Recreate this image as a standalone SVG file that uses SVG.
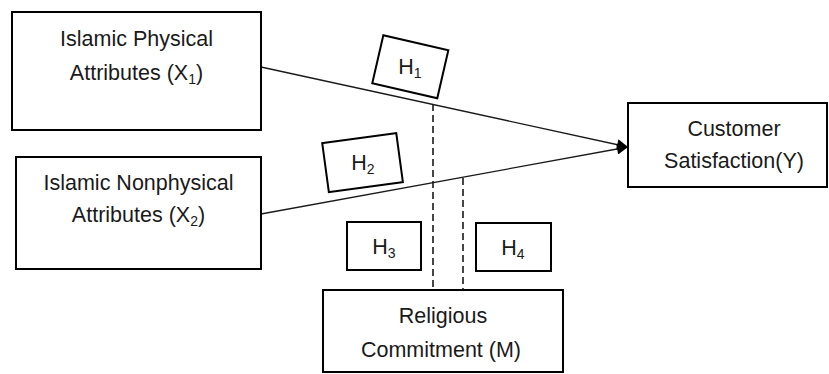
<svg xmlns="http://www.w3.org/2000/svg" width="829" height="374" viewBox="0 0 829 374">
<style>
.box{fill:#fff;stroke:#000;stroke-width:2}
.t{font-family:"Liberation Sans",Arial,sans-serif;font-size:21.5px;fill:#1a1a1a;text-anchor:middle}
.sub{font-size:14px}
.ln{stroke:#1a1a1a;stroke-width:1.3;fill:none}
.dash{stroke:#1a1a1a;stroke-width:1.6;stroke-dasharray:7 4;fill:none}
</style>
<defs>
<marker id="arr" viewBox="0 0 10 10" refX="10" refY="5" markerWidth="15" markerHeight="11" markerUnits="userSpaceOnUse" orient="auto">
<path d="M0,0 L10,5 L0,10 Z" fill="#000"/>
</marker>
</defs>
<rect width="829" height="374" fill="#fff"/>
<g id="connectors">
<line class="ln" x1="261" y1="67" x2="628" y2="147" marker-end="url(#arr)"/>
<line class="ln" x1="261" y1="214" x2="628" y2="147" marker-end="url(#arr)"/>
<line class="dash" x1="433" y1="104" x2="433" y2="298"/>
<line class="dash" x1="463" y1="178" x2="463" y2="290"/>
</g>
<g id="x1">
<rect class="box" x="12" y="12" width="249" height="118"/>
<text class="t" x="136.5" y="46">Islamic Physical</text>
<text class="t" x="136.5" y="79.5">Attributes (X<tspan class="sub" dy="4">1</tspan><tspan dy="-4">)</tspan></text>
</g>
<g id="x2">
<rect class="box" x="16" y="157" width="245" height="112"/>
<text class="t" x="138.5" y="190">Islamic Nonphysical</text>
<text class="t" x="138.5" y="221.5">Attributes (X<tspan class="sub" dy="4">2</tspan><tspan dy="-4">)</tspan></text>
</g>
<g id="y">
<rect class="box" x="628" y="103" width="199" height="84"/>
<text class="t" x="734" y="136">Customer</text>
<text class="t" x="734" y="168">Satisfaction(Y)</text>
</g>
<g id="m">
<rect class="box" x="323" y="290" width="240" height="82"/>
<text class="t" x="443" y="323">Religious</text>
<text class="t" x="441" y="357">Commitment (M)</text>
</g>
<g id="h1">
<rect class="box" x="-33.3" y="-24.6" width="66.7" height="49.2" transform="translate(410.25 66.75) rotate(13)"/>
<text class="t" x="410" y="74">H<tspan class="sub" dy="4">1</tspan></text>
</g>
<g id="h2">
<rect class="box" x="-37.3" y="-24.7" width="74.7" height="49.5" transform="translate(362.5 162.5) rotate(-7.7)"/>
<text class="t" x="363" y="170">H<tspan class="sub" dy="4">2</tspan></text>
</g>
<g id="h3">
<rect class="box" x="347" y="222" width="74" height="48"/>
<text class="t" x="384" y="254">H<tspan class="sub" dy="4">3</tspan></text>
</g>
<g id="h4">
<rect class="box" x="476" y="223" width="75" height="48"/>
<text class="t" x="513" y="255">H<tspan class="sub" dy="4">4</tspan></text>
</g>
</svg>
